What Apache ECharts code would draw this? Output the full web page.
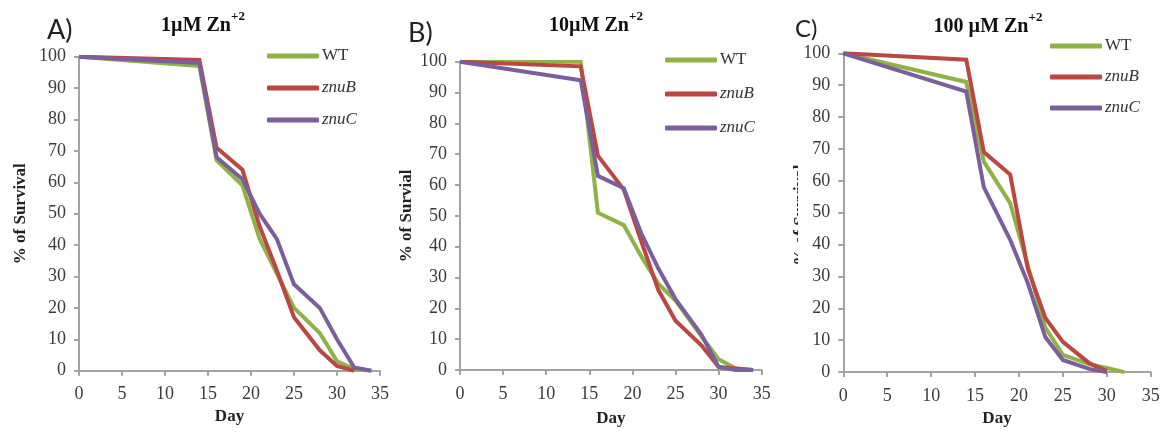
<!DOCTYPE html>
<html>
<head>
<meta charset="utf-8">
<script src="https://cdn.jsdelivr.net/npm/echarts@6/dist/echarts.min.js"></script>
<style>html,body{margin:0;padding:0;background:#fff}#c{width:1169px;height:432px}</style>
</head>
<body>
<div id="c"></div>
<script>
// ---- data ----
const seriesNames = ['WT', 'znuB', 'znuC'];
const xTicks = [0, 5, 10, 15, 20, 25, 30, 35];
const yTicks = [0, 10, 20, 30, 40, 50, 60, 70, 80, 90, 100];

// Panel A: 1 µM Zn+2
const daysA_WT   = [0, 14, 16, 19, 21, 23, 25, 28, 30, 32, 34];
const valsA_WT   = [100, 97, 67, 59, 42, 31, 20, 12, 3, 0.5, 0];
const daysA_znuB = [0, 14, 16, 19, 21, 23, 25, 28, 30, 32];
const valsA_znuB = [100, 99, 71, 64, 46, 32, 17, 6.5, 1.5, 0];
const daysA_znuC = [0, 14, 16, 19, 21, 23, 25, 28, 30, 32, 34];
const valsA_znuC = [100, 98, 68, 61, 50, 42, 27.5, 20, 10, 1, 0];

// Panel B: 10 µM Zn+2
const daysB_WT   = [0, 14, 16, 19, 21, 23, 25, 28, 30, 32, 34];
const valsB_WT   = [100, 100, 51, 47, 37, 28, 22.5, 11, 3.5, 0.5, 0];
const daysB_znuB = [0, 14, 16, 19, 21, 23, 25, 28, 30, 32, 34];
const valsB_znuB = [100, 98.5, 69.5, 58.5, 42, 26, 16, 8, 1, 0.5, 0];
const daysB_znuC = [0, 14, 16, 19, 21, 23, 25, 28, 30, 32, 34];
const valsB_znuC = [100, 94, 63, 59, 44.5, 33, 23, 11.5, 1, 0, 0];

// Panel C: 100 µM Zn+2
const daysC_WT   = [0, 14, 16, 19, 21, 23, 25, 28, 30, 32];
const valsC_WT   = [100, 91, 66, 53, 33.5, 14, 5.4, 2.5, 1.3, 0];
const daysC_znuB = [0, 14, 16, 19, 21, 23, 25, 28, 30];
const valsC_znuB = [100, 98, 69, 62, 32.5, 17, 9.5, 2.8, 0.3];
const daysC_znuC = [0, 14, 16, 19, 21, 23, 25, 28, 30];
const valsC_znuC = [100, 88, 58, 41.5, 28, 11, 3.8, 1, 0];

const panelLetters = ['A)', 'B)', 'C)'];
const panelTitles = [['1\u00b5M Zn', '+2'], ['10\u00b5M Zn', '+2'], ['100 \u00b5M Zn', '+2']];
const yTitles = ['% of Survival', '% of Survial', '% of Survival'];
const xTitle = 'Day';

// ---- styles ----
const colors = ['#8fb245', '#bb4743', '#7b5e9c'];
const serif = '"Liberation Serif", "Times New Roman", serif';
const axisGrey = '#a3a3a3';
const labelCol = '#3a3a3a';

const panels = [
  {grid: {left: 79, top: 56.7, width: 301, height: 314}, days: [daysA_WT, daysA_znuB, daysA_znuC], vals: [valsA_WT, valsA_znuB, valsA_znuC],
   yGap: 50, xGap: 37, legendLeft: 267, legendTop: 47, legendGap: 14, title: [203, 10], letter: [47, 17, 27], showYName: true},
  {grid: {left: 460, top: 61.7, width: 301.7, height: 309}, days: [daysB_WT, daysB_znuB, daysB_znuC], vals: [valsB_WT, valsB_znuB, valsB_znuC],
   yGap: 45, xGap: 40, legendLeft: 665, legendTop: 51, legendGap: 16, title: [596, 10], letter: [408, 20, 27], showYName: true},
  {grid: {left: 843.3, top: 53.3, width: 307.4, height: 326}, days: [daysC_WT, daysC_znuB, daysC_znuC], vals: [valsC_WT, valsC_znuB, valsC_znuC],
   yGap: 40, xGap: 30, legendLeft: 1050, legendTop: 37, legendGap: 13, title: [988, 11], letter: [795, 17, 24], showYName: false}
];

const grids = [], xAxes = [], yAxes = [], series = [], legends = [], titles = [], graphics = [];
panels.forEach((p, i) => {
  grids.push(Object.assign({containLabel: false}, p.grid));
  xAxes.push({
    type: 'value', gridIndex: i, min: xTicks[0], max: xTicks[xTicks.length - 1], interval: xTicks[1] - xTicks[0],
    name: xTitle, nameLocation: 'middle', nameGap: p.xGap,
    nameTextStyle: {fontFamily: serif, fontWeight: 'bold', fontSize: 17, color: '#222'},
    axisLine: {show: true, onZero: false, lineStyle: {color: axisGrey, width: 2}},
    axisTick: {show: true, inside: false, length: 5, lineStyle: {color: axisGrey, width: 2}},
    axisLabel: {fontFamily: serif, fontSize: 18, color: labelCol, margin: 15},
    splitLine: {show: false}
  });
  yAxes.push({
    type: 'value', gridIndex: i, min: yTicks[0], max: yTicks[yTicks.length - 1], interval: yTicks[1] - yTicks[0],
    name: p.showYName ? yTitles[i] : '', nameLocation: 'middle', nameGap: p.yGap, nameRotate: 90,
    nameTextStyle: {fontFamily: serif, fontWeight: 'bold', fontSize: 17, color: '#222'},
    axisLine: {show: true, lineStyle: {color: axisGrey, width: 2}},
    axisTick: {show: true, inside: false, length: 5, lineStyle: {color: axisGrey, width: 2}},
    axisLabel: {fontFamily: serif, fontSize: 18, color: labelCol, margin: 13},
    splitLine: {show: false}
  });
  seriesNames.forEach((nm, k) => {
    series.push({
      name: nm, type: 'line', xAxisIndex: i, yAxisIndex: i, symbol: 'none', smooth: false,
      lineStyle: {width: 4, color: colors[k], join: 'miter'}, itemStyle: {color: colors[k]},
      z: 2 + k,
      data: p.days[k].map((d, j) => [d, p.vals[k][j]])
    });
  });
  legends.push({
    data: seriesNames, orient: 'vertical', left: p.legendLeft, top: p.legendTop, itemGap: p.legendGap,
    icon: 'roundRect', itemWidth: 52, itemHeight: 5, selectedMode: false,
    padding: 0,
    textStyle: {fontFamily: serif, fontSize: 17, color: '#333', padding: [0, 0, 0, -2], lineHeight: 18,
      rich: {n: {fontFamily: serif, fontSize: 17, color: '#333'}, it: {fontFamily: serif, fontSize: 17, fontStyle: 'italic', color: '#333'}}},
    formatter: n => n === 'WT' ? '{n|' + n + '}' : '{it|' + n + '}'
  });
  titles.push({
    text: '{b|' + panelTitles[i][0] + '}{s|' + panelTitles[i][1] + '}',
    left: p.title[0], top: p.title[1], textAlign: 'center', padding: 0,
    textStyle: {rich: {
      b: {fontFamily: serif, fontWeight: 'bold', fontSize: 20, color: '#111', lineHeight: 26, verticalAlign: 'bottom'},
      s: {fontFamily: serif, fontWeight: 'bold', fontSize: 13, color: '#111', lineHeight: 26, verticalAlign: 'top', padding: [0, 0, 10, 0]}
    }}
  });
  graphics.push({
    type: 'text', left: p.letter[0], top: p.letter[1],
    style: {text: panelLetters[i], fontFamily: 'Lato, "Open Sans", sans-serif', fontSize: p.letter[2], fill: '#222'}
  });
});

// panel C y-axis title, mostly hidden behind the tick-label area in the reference
graphics.push({
  type: 'text', x: 809, y: 215, rotation: Math.PI / 2, z: 1,
  style: {text: yTitles[2], fontFamily: serif, fontWeight: 'bold', fontSize: 17, fill: '#222', align: 'center', verticalAlign: 'bottom'}
});
graphics.push({
  type: 'rect', shape: {x: 798, y: 140, width: 8, height: 150}, z: 2,
  style: {fill: '#fff'}
});

const chart = echarts.init(document.getElementById('c'), null, {renderer: 'canvas'});
chart.setOption({
  backgroundColor: '#fff',
  animation: false,
  title: titles,
  legend: legends,
  grid: grids,
  xAxis: xAxes,
  yAxis: yAxes,
  series: series,
  graphic: graphics
});
</script>
</body>
</html>
